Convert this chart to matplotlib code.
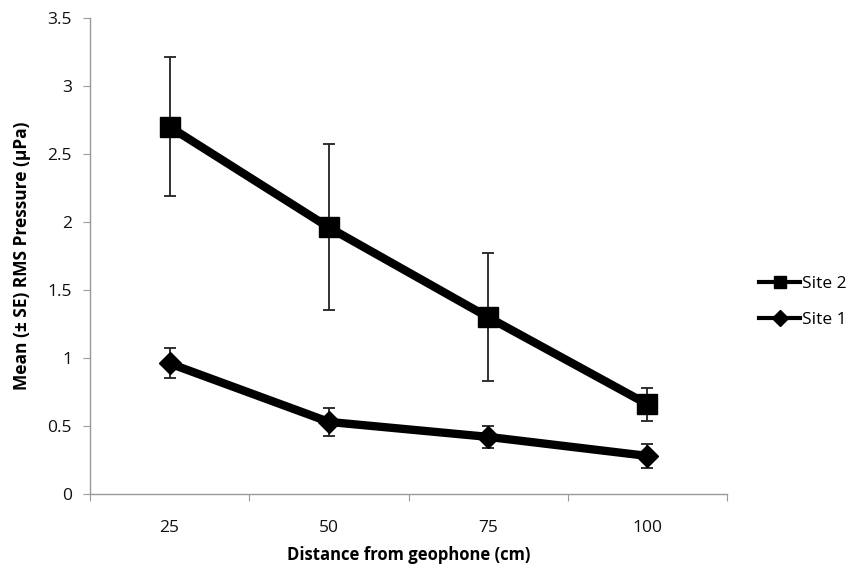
import numpy as np
import matplotlib.pyplot as plt
from matplotlib.lines import Line2D

# data
distances = ["25", "50", "75", "100"]
site2_mean = [2.70, 1.96, 1.30, 0.66]
site2_se = [0.51, 0.61, 0.47, 0.12]
site1_mean = [0.96, 0.53, 0.42, 0.28]
site1_se = [0.11, 0.10, 0.08, 0.09]

plt.rcParams['font.family'] = ['Open Sans', 'DejaVu Sans']

fig = plt.figure(figsize=(8.6, 5.73), dpi=100)
ax = fig.add_axes([90/860, 1-494/573, (727-90)/860, (494-18)/573])

x = np.arange(1, len(distances)+1)

# error bars first, then the thick lines on top
ax.errorbar(x, site2_mean, yerr=site2_se, fmt='none', ecolor='#222222',
            elinewidth=1.3, capsize=4, capthick=1.3, zorder=2)
ax.errorbar(x, site1_mean, yerr=site1_se, fmt='none', ecolor='#222222',
            elinewidth=1.3, capsize=4, capthick=1.3, zorder=2)
ax.plot(x, site2_mean, color='black', lw=6, marker='s', markersize=14, zorder=3)
ax.plot(x, site1_mean, color='black', lw=6, marker='D', markersize=11, zorder=3)

ax.set_xlim(0.5, len(distances)+0.5)
ax.set_ylim(0, 3.5)
ax.set_yticks(np.arange(0, 3.51, 0.5))
ax.set_yticklabels(['0', '0.5', '1', '1.5', '2', '2.5', '3', '3.5'])

# category axis: ticks on boundaries, labels at centres
ax.set_xticks(np.arange(0.5, len(distances)+0.51, 1))
ax.set_xticklabels([])
ax.set_xticks(x, minor=True)
ax.set_xticklabels(distances, minor=True)
ax.tick_params(axis='x', which='minor', length=0, pad=19, labelsize=12.5, labelcolor='#111111')
ax.tick_params(axis='x', which='major', length=5, color='#999999', direction='out')
ax.tick_params(axis='y', length=5, color='#999999', direction='out', labelsize=12.5,
               pad=8, labelcolor='#111111')

for s in ['top', 'right']:
    ax.spines[s].set_visible(False)
for s in ['left', 'bottom']:
    ax.spines[s].set_color('#999999')
    ax.spines[s].set_linewidth(1)

ax.set_xlabel('Distance from geophone (cm)', fontweight='bold', fontsize=12, labelpad=7)
ax.set_ylabel('Mean (± SE) RMS Pressure (µPa)', fontweight='bold', fontsize=12.5, labelpad=12)

handles = [Line2D([], [], color='black', lw=3, marker='s', markersize=9),
           Line2D([], [], color='black', lw=3, marker='D', markersize=8)]
fig.legend(handles, ['Site 2', 'Site 1'], loc='center left',
           bbox_to_anchor=(750/860, 1-302/573), frameon=False, borderpad=0,
           fontsize=12.5, handlelength=2.4, handletextpad=0.12, labelspacing=1.15)

fig.savefig('out.png', dpi=100)
